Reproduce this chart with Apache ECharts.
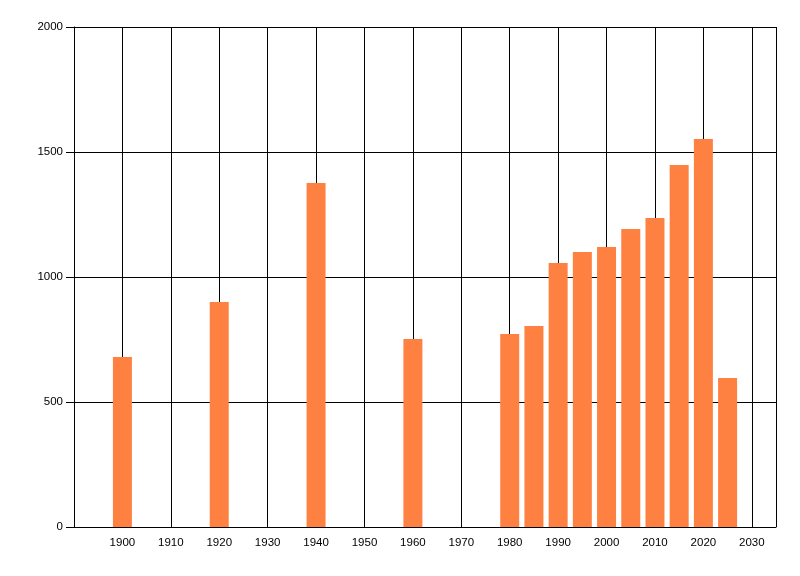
<!DOCTYPE html>
<html><head><meta charset="utf-8">
<script src="https://cdn.jsdelivr.net/npm/echarts@6/dist/echarts.min.js"></script>
<style>html,body{margin:0;padding:0;background:#fff}#c{width:800px;height:576px}</style>
</head><body><div id="c"></div>
<script>
const years = [1900, 1920, 1940, 1960, 1980, 1985, 1990, 1995, 2000, 2005, 2010, 2015, 2020, 2025];
const values = [680, 900, 1376, 752, 772, 804, 1056, 1100, 1120, 1192, 1236, 1448, 1552, 596];
const xTicks = [1900, 1910, 1920, 1930, 1940, 1950, 1960, 1970, 1980, 1990, 2000, 2010, 2020, 2030];
const yTicks = [0, 500, 1000, 1500, 2000];

const chart = echarts.init(document.getElementById('c'), null, {renderer: 'canvas'});
const font = {fontFamily: 'Liberation Sans', fontSize: 11.5, color: '#000'};
chart.setOption({
  animation: false,
  grid: {left: 74, right: 24, top: 27, bottom: 49, containLabel: false},
  xAxis: {
    type: 'value', min: 1890, max: 2035, interval: 10,
    axisLine: {show: true, lineStyle: {color: '#000', width: 1}},
    axisTick: {show: false},
    axisLabel: Object.assign({margin: 10, customValues: xTicks, formatter: v => String(v)}, font),
    splitLine: {show: true, lineStyle: {color: '#000', width: 1}}
  },
  yAxis: {
    type: 'value', min: 0, max: 2000, interval: 500,
    axisLine: {show: true, lineStyle: {color: '#000', width: 1}},
    axisTick: {show: true, length: 8, lineStyle: {color: '#000'}, customValues: yTicks},
    axisLabel: Object.assign({margin: 11, customValues: yTicks, formatter: v => String(v)}, font),
    splitLine: {show: true, lineStyle: {color: '#000', width: 1}}
  },
  series: [{
    type: 'bar',
    barWidth: 19,
    itemStyle: {color: '#ff8142'},
    data: years.map((y, i) => [y, values[i]])
  }]
});
</script></body></html>
